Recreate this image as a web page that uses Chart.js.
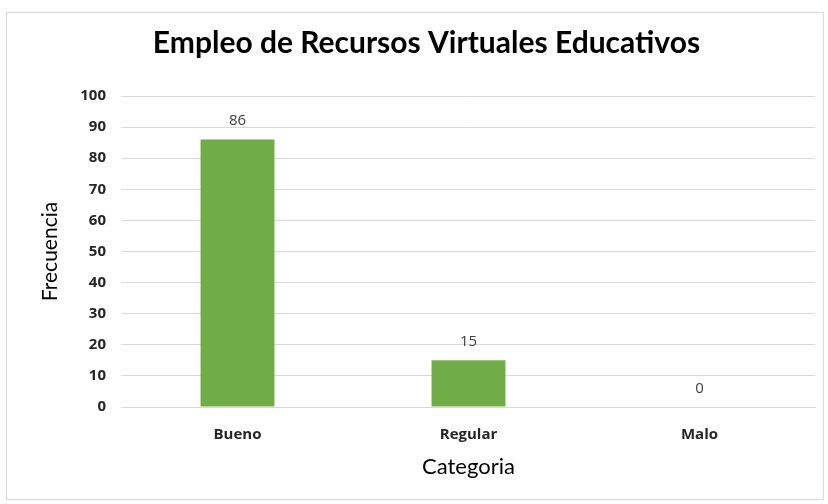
<!DOCTYPE html>
<html>
<head>
<meta charset="utf-8">
<script src="https://cdn.jsdelivr.net/npm/chart.js@4.4.0/dist/chart.umd.min.js"></script>
<style>
  html, body { margin: 0; padding: 0; background: #fff; }
  #wrap { position: relative; width: 828px; height: 504px; }
  #frame { position: absolute; left: 6px; top: 12px; width: 818px; height: 488px; border: 1px solid #d9d9d9; box-sizing: border-box; pointer-events: none; }
</style>
</head>
<body>
<div id="wrap">
  <canvas id="empleoChart" width="828" height="504"></canvas>
  <div id="frame"></div>
</div>
<script>
  // data
  const categorias = ['Bueno', 'Regular', 'Malo'];
  const frecuencias = [86, 15, 0];

  // draws the value above each bar
  const valueLabels = {
    id: 'valueLabels',
    afterDatasetsDraw(chart) {
      const ctx = chart.ctx;
      const meta = chart.getDatasetMeta(0);
      ctx.save();
      ctx.font = '15px "Open Sans", sans-serif';
      ctx.fillStyle = '#404040';
      ctx.textAlign = 'center';
      ctx.textBaseline = 'bottom';
      meta.data.forEach((bar, i) => {
        ctx.fillText(String(frecuencias[i]), bar.x, bar.y - 11);
      });
      ctx.restore();
    }
  };

  const ctx = document.getElementById('empleoChart').getContext('2d');
  new Chart(ctx, {
    type: 'bar',
    data: {
      labels: categorias,
      datasets: [{
        label: 'Frecuencia',
        data: frecuencias,
        backgroundColor: '#70AD47',
        borderWidth: 0,
        categoryPercentage: 1,
        barPercentage: 0.32
      }]
    },
    options: {
      responsive: false,
      animation: false,
      layout: { padding: { left: 38, right: 13, top: 0, bottom: 0 } },
      plugins: {
        legend: { display: false },
        tooltip: { enabled: false },
        title: {
          display: true,
          text: 'Empleo de Recursos Virtuales Educativos',
          color: '#000',
          font: { family: 'Lato', size: 30, weight: 'bold' },
          padding: { top: 25, bottom: 35 }
        }
      },
      scales: {
        y: {
          min: 0,
          max: 100,
          ticks: {
            stepSize: 10,
            padding: 16,
            color: '#262626',
            font: { family: '"Open Sans"', size: 15, weight: 'bold' }
          },
          grid: { color: '#d9d9d9', drawTicks: false },
          border: { display: false },
          title: {
            display: true,
            text: 'Frecuencia',
            color: '#000',
            font: { family: 'Lato', size: 21 },
            padding: { top: 0, bottom: 0 }
          },
          afterFit(scale) { scale.width = 84; }
        },
        x: {
          ticks: {
            padding: 19,
            color: '#262626',
            font: { family: '"Open Sans"', size: 15, weight: 'bold' }
          },
          grid: { display: false, drawTicks: false },
          border: { display: true, color: '#d9d9d9', width: 1 },
          title: {
            display: true,
            text: 'Categoria',
            color: '#000',
            font: { family: 'Lato', size: 22 },
            padding: { top: 0, bottom: 24 }
          },
          afterFit(scale) { scale.height = 97; }
        }
      }
    },
    plugins: [valueLabels]
  });
</script>
</body>
</html>
